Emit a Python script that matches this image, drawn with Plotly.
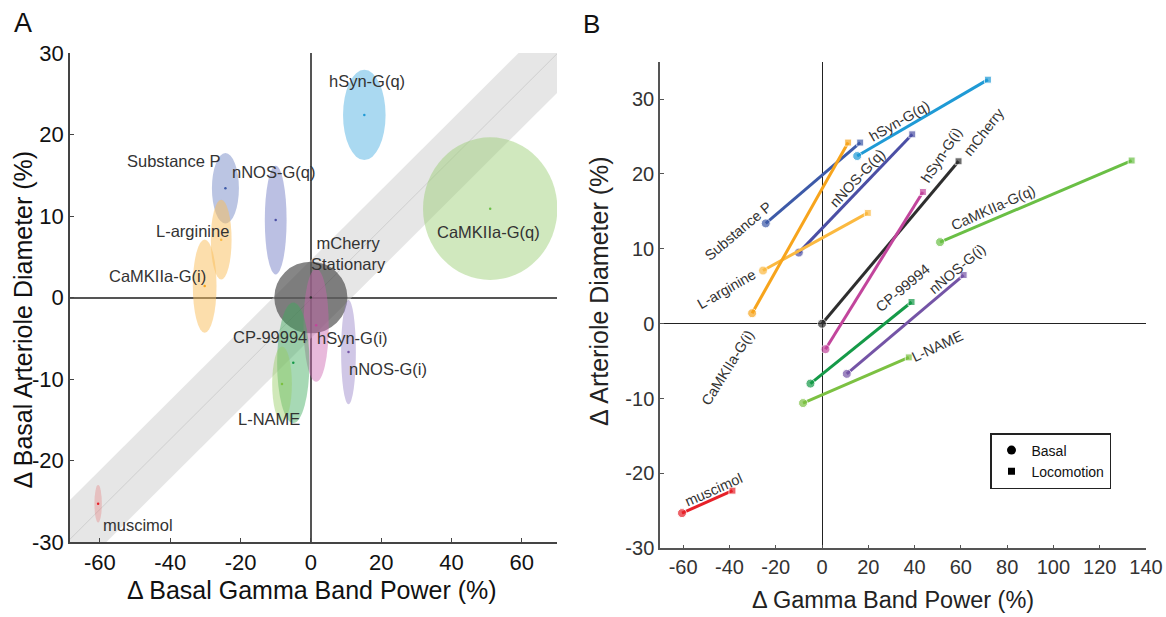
import plotly.graph_objects as go

# ---- data -------------------------------------------------------------
names = ["Substance P", "hSyn-G(q)", "nNOS-G(q)", "L-arginine", "CaMKIIa-G(i)",
         "mCherry", "hSyn-G(i)", "CaMKIIa-G(q)", "CP-99994", "nNOS-G(i)",
         "L-NAME", "muscimol"]

# basal (stationary) changes, %
basal_gamma = [-24.3, 15.2, -10.0, -25.5, -30.2, 0.0, 1.5, 51.0, -5.0, 10.7, -8.2, -60.5]
basal_diam = [13.4, 22.4, 9.5, 7.1, 1.4, 0.0, -3.4, 10.9, -8.0, -6.7, -10.6, -25.3]

# changes during locomotion, %
loco_gamma = [16.5, 71.7, 39.0, 19.8, 11.3, 59.0, 43.6, 133.8, 38.7, 61.2, 37.5, -38.7]
loco_diam = [24.2, 32.6, 25.3, 14.8, 24.2, 21.7, 17.6, 21.8, 2.9, 6.5, -4.5, -22.3]

# spread of the basal estimate (ellipse semi-axes)
gamma_spread = [3.84, 6.05, 3.1, 2.95, 3.37, 10.4, 3.58, 19.1, 4.6, 2.1, 2.8, 1.05]
diam_spread = [4.32, 5.54, 6.67, 4.9, 5.72, 4.4, 6.94, 8.75, 7.4, 6.4, 4.6, 2.3]

# neurovascular coupling band (diameter vs gamma)
band_slope = 0.43
band_intercept = -0.2
band_halfwidth = 4.8

# tick values / labels
a_xticks = [-60, -40, -20, 0, 20, 40, 60]
a_yticks = [-30, -20, -10, 0, 10, 20, 30]
b_xticks = [-60, -40, -20, 0, 20, 40, 60, 80, 100, 120, 140]
b_yticks = [-30, -20, -10, 0, 10, 20, 30]

# ---- styling ----------------------------------------------------------
line_colors = ["#3d5aa8", "#1f9ad5", "#4b4fa5", "#fbb940", "#f7a41c", "#2e2e2e",
               "#c2459c", "#6abf45", "#159a48", "#7454a6", "#7cc142", "#e62129"]
fill_colors = ["rgba(120,140,200,0.5)", "rgba(100,185,230,0.55)", "rgba(120,130,200,0.5)",
               "rgba(250,190,90,0.5)", "rgba(250,190,90,0.5)", "rgba(60,60,60,0.62)",
               "rgba(205,100,175,0.45)", "rgba(150,205,110,0.45)", "rgba(60,170,90,0.45)",
               "rgba(150,130,200,0.45)", "rgba(150,205,100,0.45)", "rgba(230,120,120,0.35)"]

# label placement, panel A (data coords)
a_label_x = [-38.9, 16.1, -10.7, -33.7, -43.5, 10.6, 11.8, 50.5, -11.7, 21.9, -11.8, -49.2]
a_label_y = [16.7, 26.6, 15.4, 8.1, 2.7, 5.4, -5.0, 8.0, -4.8, -8.8, -14.9, -27.9]
a_label_text = ["Substance P", "hSyn-G(q)", "nNOS-G(q)", "L-arginine", "CaMKIIa-G(i)",
                "mCherry<br>Stationary", "hSyn-G(i)", "CaMKIIa-G(q)", "CP-99994",
                "nNOS-G(i)", "L-NAME", "muscimol"]

# label placement, panel B (data coords + angle)
b_label_x = [-36.2, 33.5, 15.4, -41.2, -40.9, 69.9, 51.5, 73.7, 34.9, 58.4, 50.1, -47.0]
b_label_y = [12.4, 27.1, 19.4, 4.7, -5.9, 25.6, 22.6, 15.5, 4.8, 7.3, -3.0, -22.2]
b_label_angle = [-40, -30, -47, -30, -58, -52, -57, -24, -40, -40, -25, -24]

FONT = "Arial, 'Liberation Sans', sans-serif"

fig = go.Figure()

# ---- panel A ----------------------------------------------------------
xa0, xa1 = -68.5, 70
band_path = "M {x0},{y0} L {x1},{y1} L {x1},{y2} L {x0},{y3} Z".format(
    x0=xa0, x1=xa1,
    y0=band_slope * xa0 + band_intercept + band_halfwidth,
    y1=band_slope * xa1 + band_intercept + band_halfwidth,
    y2=band_slope * xa1 + band_intercept - band_halfwidth,
    y3=band_slope * xa0 + band_intercept - band_halfwidth)
fig.add_shape(type="path", path=band_path, xref="x", yref="y", layer="between",
              fillcolor="rgba(205,205,205,0.5)", line=dict(width=0))
fig.add_shape(type="line", xref="x", yref="y", layer="between",
              x0=xa0, x1=xa1,
              y0=band_slope * xa0 + band_intercept,
              y1=band_slope * xa1 + band_intercept,
              line=dict(color="rgba(185,185,185,0.5)", width=1))

for i in range(len(names)):
    fig.add_shape(type="circle", xref="x", yref="y", layer="between",
                  x0=basal_gamma[i] - gamma_spread[i], x1=basal_gamma[i] + gamma_spread[i],
                  y0=basal_diam[i] - diam_spread[i], y1=basal_diam[i] + diam_spread[i],
                  fillcolor=fill_colors[i], line=dict(width=0))

fig.add_trace(go.Scatter(x=basal_gamma, y=basal_diam, mode="markers",
                         marker=dict(size=2.5, color=line_colors),
                         xaxis="x", yaxis="y", showlegend=False, hoverinfo="skip"))

for i in range(len(names)):
    fig.add_annotation(x=a_label_x[i], y=a_label_y[i], xref="x", yref="y",
                       xanchor="center", yanchor="middle",
                       text=a_label_text[i], showarrow=False,
                       font=dict(family=FONT, size=16.5, color="#333333"))

# ---- panel B ----------------------------------------------------------
for i in range(len(names)):
    fig.add_trace(go.Scatter(x=[basal_gamma[i], loco_gamma[i]],
                             y=[basal_diam[i], loco_diam[i]],
                             mode="lines+markers",
                             line=dict(color=line_colors[i], width=3),
                             marker=dict(symbol=["circle", "square"], size=[9, 7],
                                         color=line_colors[i]),
                             xaxis="x2", yaxis="y2", showlegend=False, name=names[i]))
    fig.add_annotation(x=b_label_x[i], y=b_label_y[i], xref="x2", yref="y2",
                       xanchor="center", yanchor="middle",
                       text=names[i], textangle=b_label_angle[i], showarrow=False,
                       font=dict(family=FONT, size=14.5, color="#333333"))

# legend entries
fig.add_trace(go.Scatter(x=[None], y=[None], mode="markers", name="Basal",
                         marker=dict(symbol="circle", size=9, color="black"),
                         xaxis="x2", yaxis="y2"))
fig.add_trace(go.Scatter(x=[None], y=[None], mode="markers", name="Locomotion",
                         marker=dict(symbol="square", size=7, color="black"),
                         xaxis="x2", yaxis="y2"))

# ---- axes -------------------------------------------------------------
W, H = 1166, 617

common = dict(showgrid=False, ticks="inside", ticklen=4, showline=True,
              zeroline=True, mirror=False, automargin=False, tickmode="array")


def labels(vals):
    return [str(v) for v in vals]


fig.update_layout(
    width=W, height=H,
    margin=dict(l=0, r=0, t=0, b=0, pad=0, autoexpand=False),
    paper_bgcolor="white", plot_bgcolor="white",
    font=dict(family=FONT, color="#111111"),
    xaxis=dict(domain=[70 / W, 557 / W], range=[xa0, xa1], anchor="y",
               tickvals=a_xticks, ticktext=labels(a_xticks),
               linecolor="#444444", linewidth=1.5, tickcolor="#444444",
               zerolinecolor="#555555", zerolinewidth=1.5,
               tickfont=dict(size=22, color="#111111"), **common),
    yaxis=dict(domain=[1 - 542 / H, 1 - 53 / H], range=[-30, 30], anchor="x",
               tickvals=a_yticks, ticktext=labels(a_yticks),
               linecolor="#444444", linewidth=1.5, tickcolor="#444444",
               zerolinecolor="#555555", zerolinewidth=1.5,
               tickfont=dict(size=22, color="#111111"), **common),
    xaxis2=dict(domain=[660 / W, 1146 / W], range=[-70, 140], anchor="y2",
                tickvals=b_xticks, ticktext=labels(b_xticks),
                linecolor="#555555", linewidth=1.5, tickcolor="#555555",
                zerolinecolor="#222222", zerolinewidth=1,
                tickfont=dict(size=20, color="#333333"), **common),
    yaxis2=dict(domain=[1 - 548.3 / H, 1 - 61.7 / H], range=[-30, 35], anchor="x2",
                tickvals=b_yticks, ticktext=labels(b_yticks),
                linecolor="#555555", linewidth=1.5, tickcolor="#555555",
                zerolinecolor="#222222", zerolinewidth=1,
                tickfont=dict(size=20, color="#333333"), **common),
    legend=dict(x=990 / W, y=1 - 433 / H, xanchor="left", yanchor="top",
                bordercolor="#222222", borderwidth=1.5, bgcolor="white",
                font=dict(family=FONT, size=14, color="#111111"),
                itemwidth=30),
)

# axis titles and panel letters
paper_text = [
    (312, 590, "Δ Basal Gamma Band Power (%)", 0, 25, "#111111"),
    (22.5, 320, "Δ Basal Arteriole Diameter (%)", -90, 25, "#111111"),
    (893, 600, "Δ Gamma Band Power (%)", 0, 23.5, "#222222"),
    (599, 291, "Δ Arteriole Diameter (%)", -90, 25, "#222222"),
    (23, 23, "A", 0, 27, "#111111"),
    (591, 24, "B", 0, 26, "#111111"),
]
for px, py, txt, ang, size, col in paper_text:
    fig.add_annotation(x=px / W, y=1 - py / H, xref="paper", yref="paper",
                       xanchor="center", yanchor="middle",
                       text=txt, textangle=ang, showarrow=False,
                       font=dict(family=FONT, size=size, color=col))

fig.write_html("out.html")
